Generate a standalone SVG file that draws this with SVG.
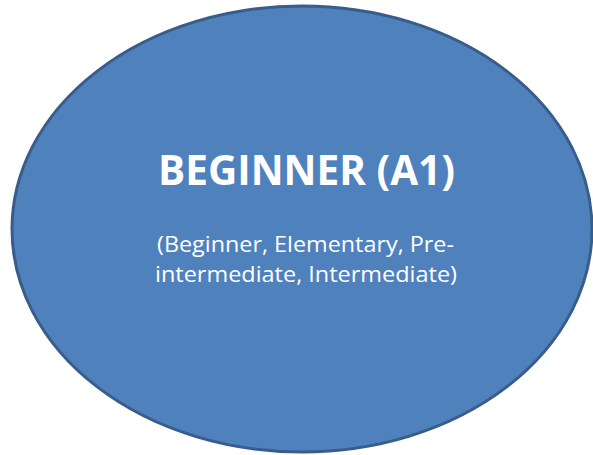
<svg xmlns="http://www.w3.org/2000/svg" width="593" height="455" viewBox="0 0 593 455">
<style>
.t{font-family:"Open Sans","Liberation Sans",Arial,sans-serif;fill:#ffffff;text-anchor:middle}
.h{font-weight:bold;font-size:41px}
.s{font-size:22px}
</style>
<rect width="593" height="455" fill="#ffffff"/>
<g id="node-beginner">
<ellipse cx="302" cy="229" rx="290" ry="223" fill="#4F81BD" stroke="#385D8A" stroke-width="3"/>
<text class="t h" x="306.5" y="185" textLength="297" lengthAdjust="spacingAndGlyphs">BEGINNER (A1)</text>
<text class="t s" x="305.5" y="252" textLength="297" lengthAdjust="spacingAndGlyphs">(Beginner, Elementary, Pre-</text>
<text class="t s" x="306" y="282" textLength="302" lengthAdjust="spacingAndGlyphs">intermediate, Intermediate)</text>
</g>
<g id="connectors"/>
</svg>
